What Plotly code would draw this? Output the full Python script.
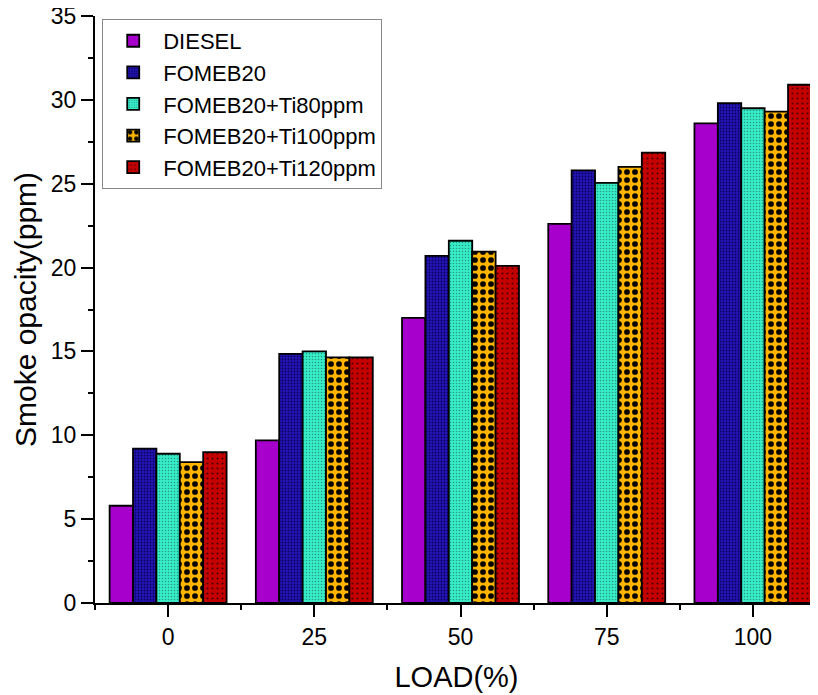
import plotly.graph_objects as go

loads = ["0", "25", "50", "75", "100"]
series_names = ["DIESEL", "FOMEB20", "FOMEB20+Ti80ppm", "FOMEB20+Ti100ppm", "FOMEB20+Ti120ppm"]
diesel = [5.8, 9.7, 17.0, 22.6, 28.6]
fomeb20 = [9.2, 14.85, 20.7, 25.8, 29.8]
ti80 = [8.9, 15.0, 21.6, 25.05, 29.5]
ti100 = [8.4, 14.65, 20.95, 26.0, 29.3]
ti120 = [9.0, 14.65, 20.1, 26.85, 30.9]
y_ticks = [0, 5, 10, 15, 20, 25, 30, 35]

values = [diesel, fomeb20, ti80, ti100, ti120]
colors = ["#A800CC", "#1E0FA8", "#33E8C4", "#FFB400", "#C00000"]
patterns = [
    dict(shape=""),
    dict(shape=".", fgcolor="#0a0060", bgcolor="#2414B4", size=3, solidity=0.3, fillmode="replace"),
    dict(shape=".", fgcolor="#1f9c82", bgcolor="#38ECC8", size=3, solidity=0.2, fillmode="replace"),
    dict(shape=".", fgcolor="#000000", bgcolor="#FFB400", size=8, solidity=0.4, fillmode="replace"),
    dict(shape=".", fgcolor="#500000", bgcolor="#C40000", size=5, solidity=0.15, fillmode="replace"),
]

xpos = list(range(len(loads)))
fig = go.Figure()
for name, vals, col, pat in zip(series_names, values, colors, patterns):
    fig.add_trace(go.Bar(
        x=xpos, y=vals, name=name,
        marker=dict(color=col, line=dict(color="black", width=1.8), pattern=pat),
    ))

fig.update_layout(
    width=810, height=687,
    margin=dict(l=87, r=0, t=8, b=92, autoexpand=False),
    plot_bgcolor="white", paper_bgcolor="white",
    barmode="group", bargap=0.2, bargroupgap=0,
    font=dict(family="Liberation Sans, Arial, sans-serif", color="black", size=23),
    legend=dict(
        x=0.01, y=0.995, xanchor="left", yanchor="top",
        bgcolor="white", bordercolor="#888888", borderwidth=1,
        font=dict(size=22), tracegroupgap=0, itemwidth=50,
    ),
    xaxis=dict(
        range=[-0.5, 4.445],
        tickvals=xpos, ticktext=loads,
        showline=True, linecolor="black", linewidth=2,
        ticks="outside", ticklen=12, tickwidth=2, tickcolor="black",
        minor=dict(tick0=0.5, dtick=1, ticks="outside", ticklen=5, tickwidth=2, tickcolor="black"),
        showgrid=False, zeroline=False, automargin=False,
        title=dict(text="LOAD(%)", font=dict(size=29), standoff=18),
        tickfont=dict(size=23),
    ),
    yaxis=dict(
        range=[0, 35],
        tickvals=y_ticks,
        showline=True, linecolor="black", linewidth=2,
        ticks="outside", ticklen=12, tickwidth=2, tickcolor="black",
        minor=dict(dtick=2.5, ticks="outside", ticklen=5, tickwidth=2, tickcolor="black"),
        showgrid=False, zeroline=False, automargin=False,
        ticklabeloverflow="allow",
        title=dict(text="Smoke opacity(ppm)", font=dict(size=30), standoff=5),
        tickfont=dict(size=23),
    ),
)

fig.write_html("out.html")
